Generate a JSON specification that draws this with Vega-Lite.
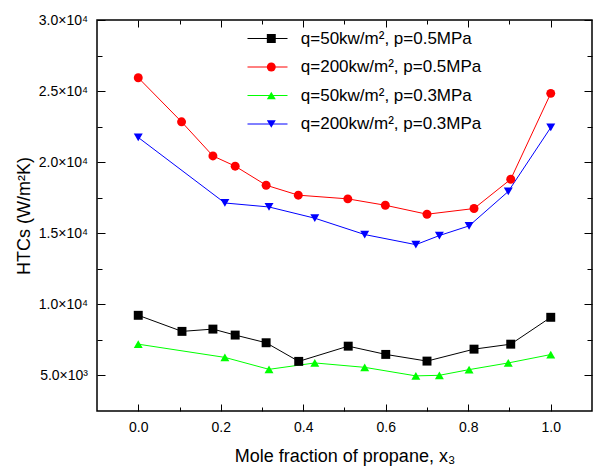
{
  "$schema": "https://vega.github.io/schema/vega-lite/v6.json",
  "width": 495,
  "height": 391,
  "autosize": {"type": "none"},
  "padding": {"left": 97, "top": 20, "right": 1, "bottom": 55},
  "background": "white",
  "config": {
    "view": {"stroke": "black", "strokeWidth": 1.5},
    "font": "Liberation Sans",
    "axis": {
      "gridOpacity": 0, "domainOpacity": 0,
      "labelColor": "black", "titleColor": "black", "labelFont": "Liberation Sans",
      "titleFont": "Liberation Sans", "labelFontSize": 14, "titleFontSize": 18, "titleFontWeight": "normal"
    }
  },
  "data": {"values": [
    {"series": "q=50kw/m², p=0.5MPa", "x": 0.0, "htc": 9230},
    {"series": "q=50kw/m², p=0.5MPa", "x": 0.106, "htc": 8100},
    {"series": "q=50kw/m², p=0.5MPa", "x": 0.181, "htc": 8260},
    {"series": "q=50kw/m², p=0.5MPa", "x": 0.235, "htc": 7840},
    {"series": "q=50kw/m², p=0.5MPa", "x": 0.31, "htc": 7300},
    {"series": "q=50kw/m², p=0.5MPa", "x": 0.389, "htc": 5990},
    {"series": "q=50kw/m², p=0.5MPa", "x": 0.509, "htc": 7060},
    {"series": "q=50kw/m², p=0.5MPa", "x": 0.6, "htc": 6480},
    {"series": "q=50kw/m², p=0.5MPa", "x": 0.7, "htc": 6010},
    {"series": "q=50kw/m², p=0.5MPa", "x": 0.814, "htc": 6850},
    {"series": "q=50kw/m², p=0.5MPa", "x": 0.903, "htc": 7200},
    {"series": "q=50kw/m², p=0.5MPa", "x": 1.0, "htc": 9090},
    {"series": "q=200kw/m², p=0.5MPa", "x": 0.0, "htc": 25940},
    {"series": "q=200kw/m², p=0.5MPa", "x": 0.105, "htc": 22840},
    {"series": "q=200kw/m², p=0.5MPa", "x": 0.181, "htc": 20440},
    {"series": "q=200kw/m², p=0.5MPa", "x": 0.235, "htc": 19720},
    {"series": "q=200kw/m², p=0.5MPa", "x": 0.31, "htc": 18380},
    {"series": "q=200kw/m², p=0.5MPa", "x": 0.388, "htc": 17680},
    {"series": "q=200kw/m², p=0.5MPa", "x": 0.508, "htc": 17420},
    {"series": "q=200kw/m², p=0.5MPa", "x": 0.599, "htc": 16970},
    {"series": "q=200kw/m², p=0.5MPa", "x": 0.7, "htc": 16340},
    {"series": "q=200kw/m², p=0.5MPa", "x": 0.814, "htc": 16740},
    {"series": "q=200kw/m², p=0.5MPa", "x": 0.903, "htc": 18800},
    {"series": "q=200kw/m², p=0.5MPa", "x": 1.0, "htc": 24840},
    {"series": "q=50kw/m², p=0.3MPa", "x": 0.0, "htc": 7200},
    {"series": "q=50kw/m², p=0.3MPa", "x": 0.21, "htc": 6270},
    {"series": "q=50kw/m², p=0.3MPa", "x": 0.317, "htc": 5430},
    {"series": "q=50kw/m², p=0.3MPa", "x": 0.428, "htc": 5880},
    {"series": "q=50kw/m², p=0.3MPa", "x": 0.549, "htc": 5570},
    {"series": "q=50kw/m², p=0.3MPa", "x": 0.673, "htc": 4970},
    {"series": "q=50kw/m², p=0.3MPa", "x": 0.73, "htc": 5010},
    {"series": "q=50kw/m², p=0.3MPa", "x": 0.802, "htc": 5410},
    {"series": "q=50kw/m², p=0.3MPa", "x": 0.897, "htc": 5880},
    {"series": "q=50kw/m², p=0.3MPa", "x": 1.0, "htc": 6470},
    {"series": "q=200kw/m², p=0.3MPa", "x": 0.0, "htc": 21740},
    {"series": "q=200kw/m², p=0.3MPa", "x": 0.21, "htc": 17130},
    {"series": "q=200kw/m², p=0.3MPa", "x": 0.317, "htc": 16850},
    {"series": "q=200kw/m², p=0.3MPa", "x": 0.428, "htc": 16060},
    {"series": "q=200kw/m², p=0.3MPa", "x": 0.549, "htc": 14910},
    {"series": "q=200kw/m², p=0.3MPa", "x": 0.673, "htc": 14200},
    {"series": "q=200kw/m², p=0.3MPa", "x": 0.73, "htc": 14840},
    {"series": "q=200kw/m², p=0.3MPa", "x": 0.802, "htc": 15520},
    {"series": "q=200kw/m², p=0.3MPa", "x": 0.897, "htc": 17940},
    {"series": "q=200kw/m², p=0.3MPa", "x": 1.0, "htc": 22440}
  ]},
  "resolve": {
    "axis": {"x": "independent", "y": "independent"},
    "legend": {"color": "independent", "shape": "independent"}
  },
  "layer": [
    {
      "mark": {"type": "line", "strokeWidth": 1},
      "encoding": {
        "x": {"field": "x", "type": "quantitative", "scale": {"domain": [-0.1, 1.1], "nice": false, "zero": false},
          "axis": {"orient": "bottom", "tickColor": "black", "values": [0, 0.2, 0.4, 0.6, 0.8, 1.0], "format": ".1f", "tickSize": 7, "offset": -7, "labelPadding": 9, "title": "Mole fraction of propane, x₃", "titlePadding": 13}},
        "y": {"field": "htc", "type": "quantitative", "scale": {"domain": [2500, 30000], "nice": false, "zero": false},
          "axis": {"orient": "left", "tickColor": "black", "values": [5000, 10000, 15000, 20000, 25000, 30000], "tickSize": 8, "offset": -8, "labelPadding": 9.5,
            "labelExpr": "datum.value >= 10000 ? format(datum.value/10000, '.1f') + '×10⁴' : format(datum.value/1000, '.1f') + '×10³'",
            "title": "HTCs (W/m²K)", "titlePadding": 4.5}},
        "color": {"field": "series", "type": "nominal",
          "scale": {"domain": ["q=50kw/m², p=0.5MPa", "q=200kw/m², p=0.5MPa", "q=50kw/m², p=0.3MPa", "q=200kw/m², p=0.3MPa"], "range": ["#000000", "#ff0000", "#00ff00", "#0000ff"]},
          "legend": {"orient": "none", "legendX": 150, "legendY": 10, "title": null, "symbolType": "stroke", "symbolSize": 1600, "symbolStrokeWidth": 1, "clipHeight": 17, "rowPadding": 10.5, "labelFontSize": 17, "labelFont": "Liberation Sans", "labelExpr": "''", "labelOffset": 5, "labelLimit": 0}}
      }
    },
    {
      "mark": {"type": "point", "filled": true, "opacity": 1, "strokeWidth": 0, "size": 80},
      "encoding": {
        "x": {"field": "x", "type": "quantitative", "axis": {"orient": "top", "tickColor": "black", "values": [0, 0.2, 0.4, 0.6, 0.8, 1.0], "labels": false, "tickSize": 7, "offset": -7, "title": null}},
        "y": {"field": "htc", "type": "quantitative", "axis": {"orient": "right", "tickColor": "black", "values": [5000, 10000, 15000, 20000, 25000, 30000], "labels": false, "tickSize": 8, "offset": -8, "title": null}},
        "color": {"field": "series", "type": "nominal",
          "legend": {"orient": "none", "legendX": 165.8, "legendY": 10, "title": null, "symbolSize": 80, "clipHeight": 17, "rowPadding": 10.5, "labelFontSize": 17, "labelFont": "Liberation Sans", "labelColor": "black", "labelOffset": 21, "labelLimit": 0}},
        "shape": {"field": "series", "type": "nominal",
          "scale": {"domain": ["q=50kw/m², p=0.5MPa", "q=200kw/m², p=0.5MPa", "q=50kw/m², p=0.3MPa", "q=200kw/m², p=0.3MPa"], "range": ["square", "circle", "triangle-up", "triangle-down"]},
          "legend": {"orient": "none", "legendX": 165.8, "legendY": 10, "title": null, "symbolSize": 80, "clipHeight": 17, "rowPadding": 10.5, "labelFontSize": 17, "labelFont": "Liberation Sans", "labelColor": "black", "labelOffset": 21, "labelLimit": 0}}
      }
    },
    {
      "mark": {"type": "point", "opacity": 0},
      "encoding": {
        "x": {"field": "x", "type": "quantitative", "axis": {"orient": "bottom", "tickColor": "black", "values": [0.1, 0.3, 0.5, 0.7, 0.9], "labels": false, "tickSize": 4, "offset": -4, "title": null}},
        "y": {"field": "htc", "type": "quantitative", "axis": {"orient": "left", "tickColor": "black", "values": [7500, 12500, 17500, 22500, 27500], "labels": false, "tickSize": 5, "offset": -5, "title": null}}
      }
    },
    {
      "mark": {"type": "point", "opacity": 0},
      "encoding": {
        "x": {"field": "x", "type": "quantitative", "axis": {"orient": "top", "tickColor": "black", "values": [0.1, 0.3, 0.5, 0.7, 0.9], "labels": false, "tickSize": 4, "offset": -4, "title": null}},
        "y": {"field": "htc", "type": "quantitative", "axis": {"orient": "right", "tickColor": "black", "values": [7500, 12500, 17500, 22500, 27500], "labels": false, "tickSize": 5, "offset": -5, "title": null}}
      }
    }
  ]
}
